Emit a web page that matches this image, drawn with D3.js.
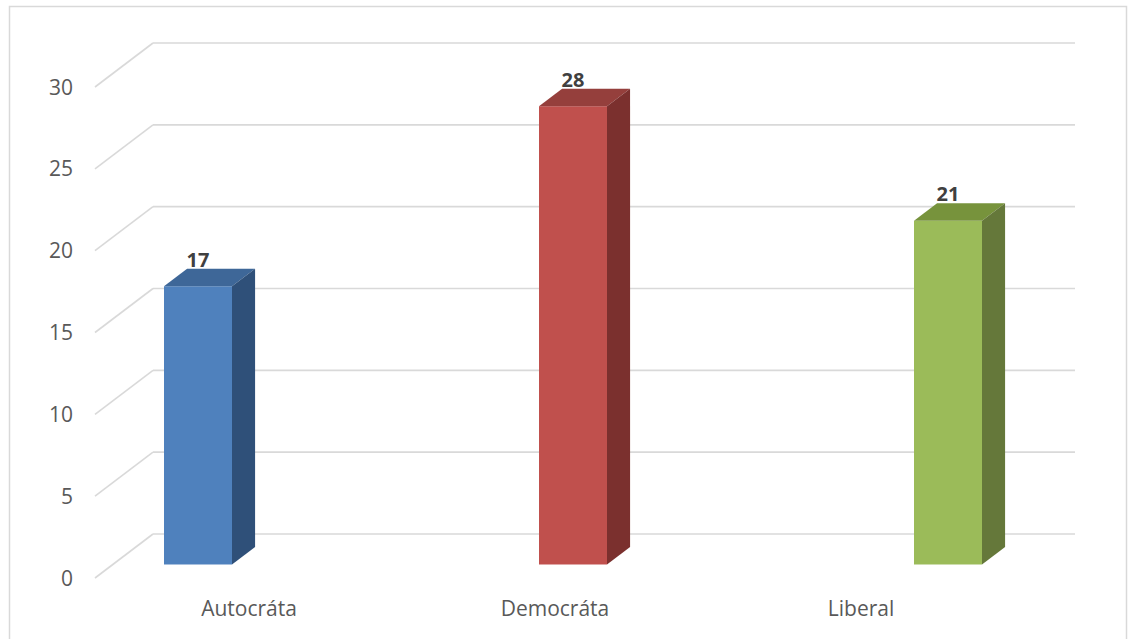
<!DOCTYPE html>
<html>
<head>
<meta charset="utf-8">
<script src="https://cdn.jsdelivr.net/npm/d3@7"></script>
<style>
  html, body { margin: 0; padding: 0; background: #fff; }
  svg { display: block; }
  text { font-family: "Open Sans", "Noto Sans", sans-serif; }
</style>
</head>
<body>
<svg id="chart" width="1130" height="639"></svg>
<script>
// Data
const categories = ["Autocráta", "Democráta", "Liberal"];
const values = [17, 28, 21];
const yTicks = [0, 5, 10, 15, 20, 25, 30];

// Face colours per series: front, top, side
const frontColors = ["#4F81BD", "#C0504D", "#9BBB59"];
const topColors   = ["#3E6798", "#953F3C", "#77933C"];
const sideColors  = ["#2F5079", "#7B302E", "#65783A"];

const svg = d3.select("#chart");

// Outer chart border
svg.append("rect")
  .attr("x", 9.5).attr("y", 6.5)
  .attr("width", 1117).attr("height", 660)
  .attr("fill", "none").attr("stroke", "#D9D9D9").attr("stroke-width", 1.5);

// Vertical scale on the back wall
const backLeft = 153, backRight = 1075;
const y = d3.scaleLinear().domain([0, 30]).range([534, 43]);

// Oblique offset from back wall to front plane
const depthDx = -58, depthDy = 44;

// Gridlines: back wall horizontal + diagonal on the side wall
const grid = svg.append("g").attr("stroke", "#D9D9D9").attr("stroke-width", 1.6).attr("fill", "none");
yTicks.forEach(t => {
  grid.append("line")
    .attr("x1", backLeft).attr("x2", backRight)
    .attr("y1", y(t)).attr("y2", y(t));
  grid.append("line")
    .attr("x1", backLeft + depthDx).attr("y1", y(t) + depthDy)
    .attr("x2", backLeft).attr("y2", y(t));
});

// Tick labels on the front plane
svg.append("g").selectAll("text").data(yTicks).join("text")
  .attr("x", 73)
  .attr("y", d => y(d) + depthDy)
  .attr("dy", "0.36em")
  .attr("text-anchor", "end")
  .attr("font-size", 21)
  .attr("fill", "#595959")
  .text(d => d);

// Bars: front face sits part-way into the depth
const barFrontFrac = 0.693, barBackFrac = 0.295;
const fdx = depthDx * barFrontFrac, fdy = depthDy * barFrontFrac;
const bdx = depthDx * barBackFrac, bdy = depthDy * barBackFrac;
const sideDx = bdx - fdx, sideDy = bdy - fdy;

const xBar = d3.scalePoint().domain(categories).range([10.5, 1135.5]).padding(0.5);
const barW = 68;

const bars = svg.append("g").selectAll("g").data(categories).join("g");
bars.each(function(c, i) {
  const g = d3.select(this);
  const v = values[i];
  const x0 = xBar(c) - barW / 2, x1 = x0 + barW;
  const yTop = y(v) + fdy, yBot = y(0) + fdy;
  // front face
  g.append("rect")
    .attr("x", x0).attr("y", yTop)
    .attr("width", barW).attr("height", yBot - yTop)
    .attr("fill", frontColors[i]);
  // top face
  g.append("path")
    .attr("d", `M${x0},${yTop} L${x1},${yTop} L${x1 + sideDx},${yTop + sideDy} L${x0 + sideDx},${yTop + sideDy} Z`)
    .attr("fill", topColors[i]);
  // side face
  g.append("path")
    .attr("d", `M${x1},${yTop} L${x1 + sideDx},${yTop + sideDy} L${x1 + sideDx},${yBot + sideDy} L${x1},${yBot} Z`)
    .attr("fill", sideColors[i]);
  // value label
  g.append("text")
    .attr("x", xBar(c))
    .attr("y", yTop + sideDy - 2)
    .attr("text-anchor", "middle")
    .attr("font-size", 20)
    .attr("font-weight", "bold")
    .attr("fill", "#404040")
    .text(v);
});

// Category labels along the front floor edge
const xLabel = d3.scalePoint().domain(categories).range([96, 1014]).padding(0.5);
svg.append("g").selectAll("text").data(categories).join("text")
  .attr("x", d => xLabel(d))
  .attr("y", 616)
  .attr("text-anchor", "middle")
  .attr("font-size", 21)
  .attr("fill", "#595959")
  .text(d => d);
</script>
</body>
</html>
